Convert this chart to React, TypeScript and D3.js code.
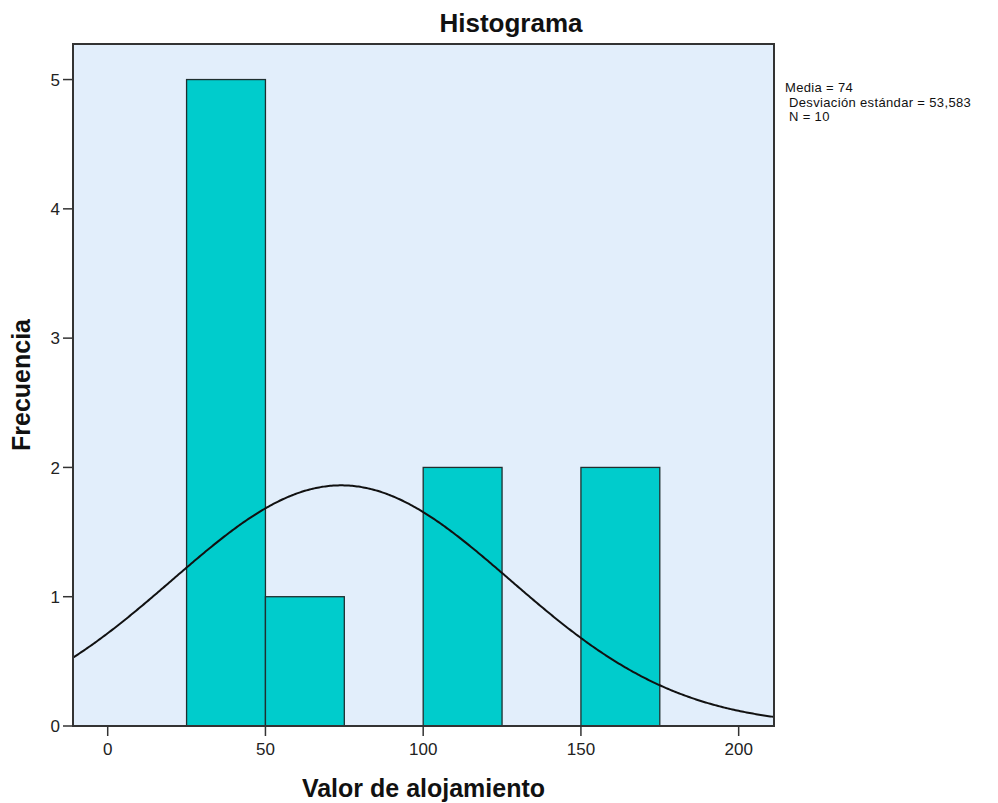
import React from "react";
import * as d3 from "d3";

const binStarts = [25, 50, 75, 100, 125, 150];
const binWidth = 25;
const counts = [5, 1, 0, 2, 0, 2];
const xTicks = [0, 50, 100, 150, 200];
const yTicks = [0, 1, 2, 3, 4, 5];
const mean = 74;
const sd = 53.583;
const n = 10;
const statLines = ["Media = 74", " Desviación estándar = 53,583", " N = 10"];

const W = 998, H = 803;
const L = 73, R = 774, T = 44, B = 726;

export default function App() {
  const x = d3.scaleLinear().domain([-11.0, 211.2]).range([L, R]);
  const y = d3.scaleLinear().domain([0, 5.275]).range([B, T]);
  const pdf = (v: number) =>
    (n * binWidth) / (sd * Math.sqrt(2 * Math.PI)) * Math.exp(-0.5 * ((v - mean) / sd) ** 2);
  const xs = d3.range(-11.0, 211.2 + 0.001, 0.5);
  const line = d3.line<number>().x(v => x(v)).y(v => y(pdf(v))).curve(d3.curveLinear);
  const font = "'Liberation Sans', Arial, sans-serif";
  return (
    <svg width={W} height={H} style={{ position: "absolute", left: 0, top: 0, background: "#fff" }} fontFamily={font}>
      <defs>
        <clipPath id="pc"><rect x={L} y={T} width={R - L} height={B - T} /></clipPath>
      </defs>
      <rect x={L} y={T} width={R - L} height={B - T} fill="#E2EEFB" />
      {binStarts.map((s, i) => counts[i] > 0 && (
        <rect key={i} x={x(s)} y={y(counts[i])} width={x(s + binWidth) - x(s)} height={y(0) - y(counts[i])}
          fill="#00CCCC" stroke="#1f2f2f" strokeWidth={1.3} />
      ))}
      <path d={line(xs) || ""} fill="none" stroke="#111" strokeWidth={2} clipPath="url(#pc)" />
      <rect x={L} y={T} width={R - L} height={B - T} fill="none" stroke="#333" strokeWidth={2} />
      {yTicks.map(t => (
        <g key={t}>
          <line x1={L - 10} x2={L} y1={y(t)} y2={y(t)} stroke="#333" strokeWidth={1.5} />
          <text x={L - 13} y={y(t)} dy="0.36em" textAnchor="end" fontSize={17} fill="#222">{t}</text>
        </g>
      ))}
      {xTicks.map(t => (
        <g key={t}>
          <line x1={x(t)} x2={x(t)} y1={B} y2={B + 10} stroke="#333" strokeWidth={1.5} />
          <text x={x(t)} y={B + 29} textAnchor="middle" fontSize={17} fill="#222">{t}</text>
        </g>
      ))}
      <text x={511} y={32} textAnchor="middle" fontSize={26} fontWeight="bold" fill="#111">Histograma</text>
      <text x={(L + R) / 2} y={797} textAnchor="middle" fontSize={25} fontWeight="bold" fill="#111">Valor de alojamiento</text>
      <text transform={`translate(30,${(T + B) / 2}) rotate(-90)`} textAnchor="middle" fontSize={25} fontWeight="bold" fill="#111">Frecuencia</text>
      {statLines.map((s, i) => (
        <text key={i} x={785} y={92 + i * 14.5} fontSize={13} letterSpacing={0.35} fill="#111" style={{ whiteSpace: "pre" }}>{s}</text>
      ))}
    </svg>
  );
}
